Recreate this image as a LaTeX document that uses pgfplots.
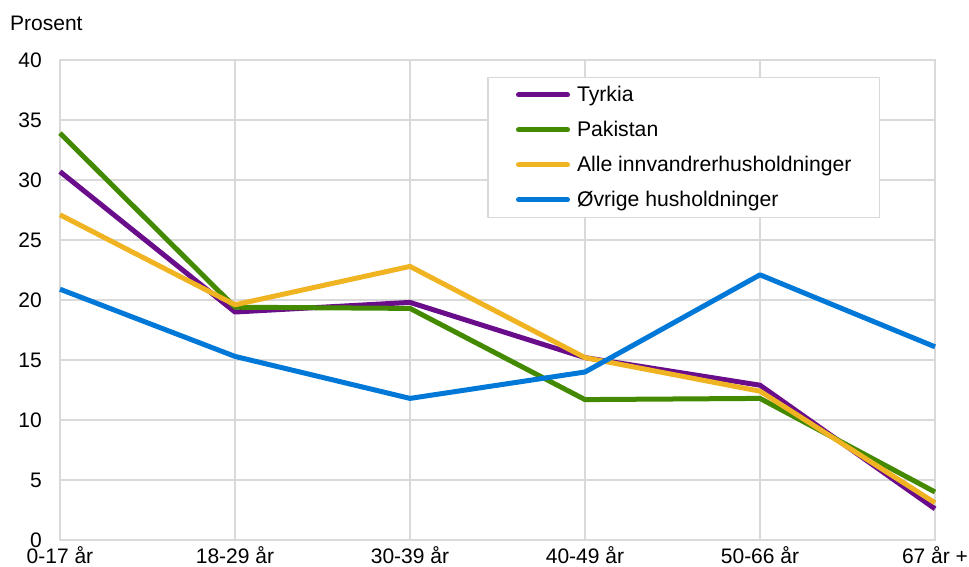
\documentclass[border=0pt]{standalone}
\usepackage{fontspec}
\setmainfont{Liberation Sans}
\usepackage{pgfplots}
\pgfplotsset{compat=1.18}

\definecolor{tyrkia}{RGB}{106,13,139}
\definecolor{pakistan}{RGB}{67,138,0}
\definecolor{alle}{RGB}{240,180,35}
\definecolor{ovrige}{RGB}{0,120,215}
\definecolor{gridgray}{RGB}{217,217,217}

\begin{document}
\begin{tikzpicture}
\begin{axis}[
  name=ax,
  scale only axis,
  width=875pt, height=480pt,
  xmin=0, xmax=5, ymin=0, ymax=40,
  xtick={0,...,5},
  xticklabels={0-17 år, 18-29 år, 30-39 år, 40-49 år, 50-66 år, 67 år +},
  ytick={0,5,...,40},
  grid=major,
  major grid style={gridgray, line width=1.5pt},
  axis line style={gridgray, line width=1.5pt},
  major tick length=0pt,
  tick style={draw=none},
  font=\fontsize{21}{25}\selectfont,
  /pgf/number format/assume math mode=true,
  ticklabel style={inner sep=0pt},
  yticklabel style={anchor=east, xshift=-18pt},
  xticklabel style={anchor=north, yshift=-6pt},
  legend style={
    at={(0.4883,0.9653)}, anchor=north west,
    draw=gridgray, line width=1.5pt,
    font=\fontsize{21.2}{25}\selectfont,
    inner xsep=28pt, inner ysep=9pt,
    row sep=18pt,
    nodes={inner sep=0pt, anchor=west, text height=15pt, text depth=2pt},
    /tikz/every odd column/.append style={column sep=7pt},
  },
  legend cell align=left,
  legend image code/.code={\draw[line width=5pt, line cap=round] (2.5pt,0pt) -- (51.5pt,0pt);},
  every axis plot/.append style={line width=5pt, line join=round},
  clip=false,
]
\addplot[tyrkia] coordinates {(0,30.7) (1,19.0) (2,19.8) (3,15.2) (4,12.9) (5,2.6)};
\addlegendentry{Tyrkia}
\addplot[pakistan] coordinates {(0,33.9) (1,19.4) (2,19.3) (3,11.7) (4,11.8) (5,4.0)};
\addlegendentry{Pakistan}
\addplot[alle] coordinates {(0,27.1) (1,19.6) (2,22.8) (3,15.2) (4,12.4) (5,3.1)};
\addlegendentry{Alle innvandrerhusholdninger\hspace{17pt}}
\addplot[ovrige] coordinates {(0,20.9) (1,15.3) (2,11.8) (3,14.0) (4,22.1) (5,16.1)};
\addlegendentry{Øvrige husholdninger}
\end{axis}
\node[anchor=base west, inner sep=0pt, font=\fontsize{21}{25}\selectfont]
  at ([xshift=-50pt, yshift=29.5pt]ax.north west) {Prosent};
\pgfresetboundingbox
\useasboundingbox ([xshift=-60pt, yshift=-26pt]ax.south west) rectangle ++(969pt,566pt);
\end{tikzpicture}
\end{document}
